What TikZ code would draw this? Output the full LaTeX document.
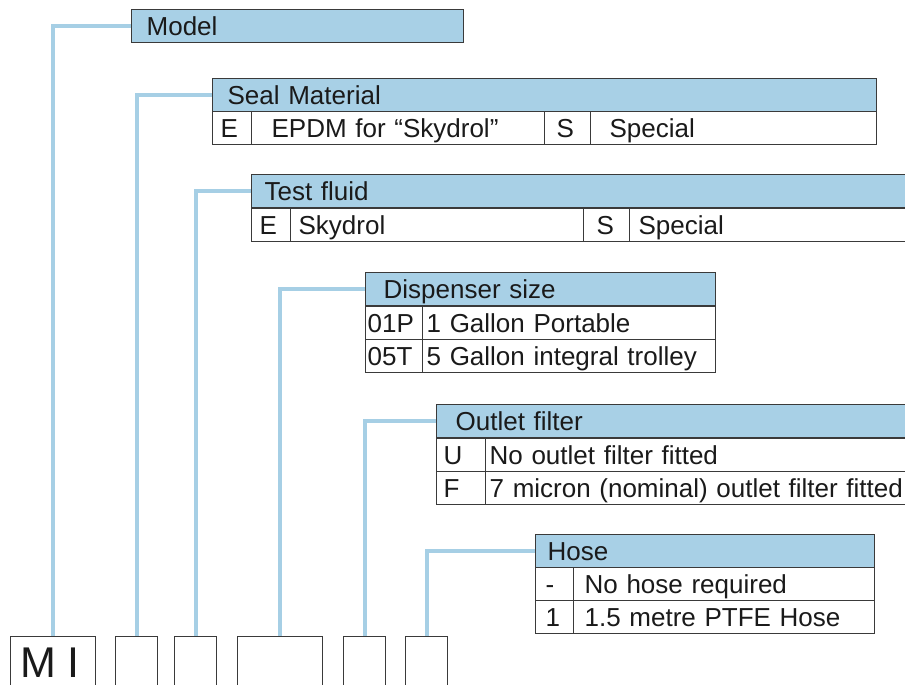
\documentclass[tikz,border=0pt]{standalone}
\usepackage{fontspec}
\setmainfont{Liberation Sans}
\definecolor{hdrblue}{HTML}{A8D0E6}
\definecolor{connblue}{HTML}{A6CFE5}
\definecolor{bord}{HTML}{3A3A3A}
\definecolor{ink}{HTML}{1A1A1A}
\newcommand{\fs}{\fontsize{26}{30}\selectfont}
\tikzset{
  tbl/.style={draw=bord, line width=1.3pt, anchor=north west, inner ysep=0pt,
    text height=26pt, text depth=7pt, align=left, font=\fs, text=ink},
  hdr/.style={tbl, fill=hdrblue},
  cellbox/.style={tbl, fill=white},
  codebox/.style={draw=bord, line width=1.3pt, anchor=north west, fill=white,
    minimum height=64pt, inner sep=0pt},
  conn/.style={draw=connblue, line width=4pt}
}
\begin{document}
\begin{tikzpicture}[x=1pt,y=-1pt]
\useasboundingbox (0,0) rectangle (905,685);
\clip (0,0) rectangle (905,685);
\fill[white] (0,0) rectangle (905,685);

% bottom code boxes
\node[codebox, minimum width=85pt] (b1) at (10,636) {};
\node[codebox, minimum width=42pt] (b2) at (115,636) {};
\node[codebox, minimum width=42pt] (b3) at (174,636) {};
\node[codebox, minimum width=85pt] (b4) at (237,636) {};
\node[codebox, minimum width=42pt] (b5) at (343,636) {};
\node[codebox, minimum width=42pt] (b6) at (405,636) {};
\node[anchor=base west, inner sep=0pt, font=\fontsize{43}{48}\selectfont, text=ink] (mi) at (20,677) {M I};

% Model
\node[hdr, text width=302pt, inner xsep=15pt] (model) at (131,9) {Model};

% Seal Material
\node[hdr, text width=634pt, inner xsep=15pt] (seal) at (212,78) {Seal Material};
\node[cellbox, text width=23pt, inner xsep=8pt] (sealE) at (212,111) {E};
\node[cellbox, text width=253pt, inner xsep=20pt] (sealEt) at (251,111) {EPDM for “Skydrol”};
\node[cellbox, text width=22pt, inner xsep=12pt] (sealS) at (544,111) {S};
\node[cellbox, text width=248pt, inner xsep=19pt] (sealSt) at (590,111) {Special};

% Test fluid
\node[hdr, text width=639pt, inner xsep=13pt] (test) at (251,174) {Test fluid};
\node[cellbox, text width=23pt, inner xsep=8pt] (testE) at (251,208) {E};
\node[cellbox, text width=277pt, inner xsep=8pt] (testEt) at (290,208) {Skydrol};
\node[cellbox, text width=20pt, inner xsep=13pt] (testS) at (583,208) {S};
\node[cellbox, text width=269pt, inner xsep=9pt] (testSt) at (629,208) {Special};

% Dispenser size
\node[hdr, text width=314pt, inner xsep=18pt] (disp) at (365,272) {Dispenser size};
\node[cellbox, text width=53pt, inner xsep=2pt] (dispA) at (365,306) {01P};
\node[cellbox, text width=285pt, inner xsep=4pt] (dispAt) at (422,306) {1 Gallon Portable};
\node[cellbox, text width=53pt, inner xsep=2pt] (dispB) at (365,339) {05T};
\node[cellbox, text width=285pt, inner xsep=4pt] (dispBt) at (422,339) {5 Gallon integral trolley};

% Outlet filter
\node[hdr, text width=442pt, inner xsep=19pt] (outl) at (436,404) {Outlet filter};
\node[cellbox, text width=35pt, inner xsep=7pt] (outU) at (436,438) {U};
\node[cellbox, text width=423pt, inner xsep=4pt] (outUt) at (485,438) {No outlet filter fitted};
\node[cellbox, text width=35pt, inner xsep=7pt] (outF) at (436,471) {F};
\node[cellbox, text width=423pt, inner xsep=4pt] (outFt) at (485,471) {7 micron (nominal) outlet filter fitted};

% Hose
\node[hdr, text width=315pt, inner xsep=12pt] (hose) at (535,534) {Hose};
\node[cellbox, text width=18pt, inner xsep=10pt] (hoseA) at (535,567) {-};
\node[cellbox, text width=279pt, inner xsep=11pt] (hoseAt) at (573,567) {No hose required};
\node[cellbox, text width=18pt, inner xsep=10pt] (hoseB) at (535,600) {1};
\node[cellbox, text width=279pt, inner xsep=11pt] (hoseBt) at (573,600) {1.5 metre PTFE Hose};

% connectors
\draw[conn] (model.west) -| ([xshift=-0.5pt]b1.north);
\draw[conn] (seal.west) -| (b2.north);
\draw[conn] (test.west) -| (b3.north);
\draw[conn] (disp.west) -| (b4.north);
\draw[conn] (outl.west) -| (b5.north);
\draw[conn] (hose.west) -| (b6.north);
\end{tikzpicture}
\end{document}
